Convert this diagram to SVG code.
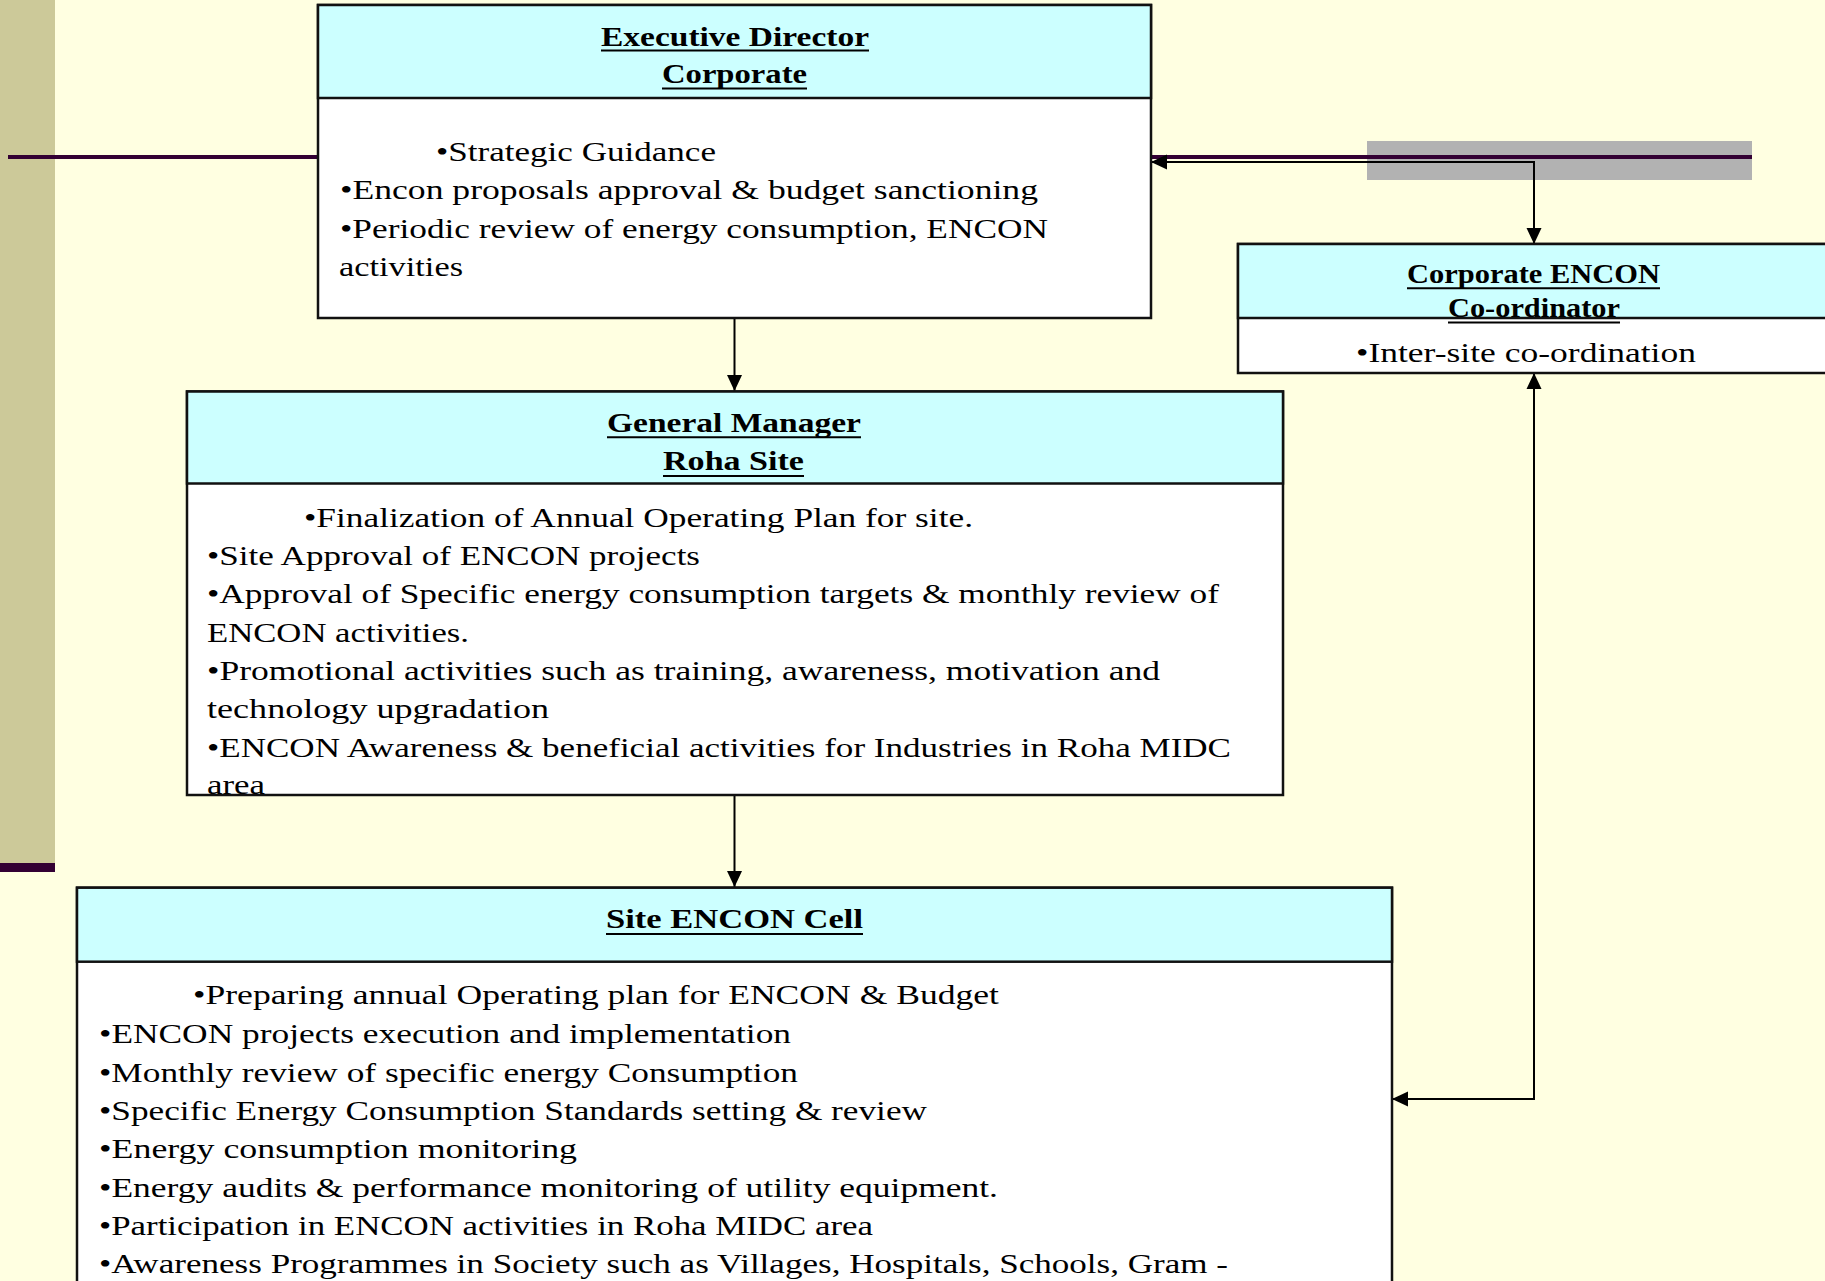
<svg xmlns="http://www.w3.org/2000/svg" width="1825" height="1281" viewBox="0 0 1825 1281">
<defs>
<style>
.bg{fill:#FFFFE1}
.box{fill:#FFFFFF;stroke:#111111;stroke-width:2.5}
.hdr{fill:#CCFFFF;stroke:#111111;stroke-width:2.5}
.h{font-family:"Liberation Serif","Times New Roman",Times,serif;font-weight:bold;font-size:28px;fill:#000000}
.t{font-family:"Liberation Serif","Times New Roman",Times,serif;font-size:28px;fill:#000000}
.ul{stroke:#000000;stroke-width:2}
.con{fill:none;stroke:#000000;stroke-width:2}
</style>
<marker id="arr" viewBox="0 0 16 16" markerWidth="16" markerHeight="16" refX="16" refY="8" orient="auto-start-reverse" markerUnits="userSpaceOnUse">
<path d="M0,0.5 L16,8 L0,15.5 Z" fill="#000000"/>
</marker>
</defs>
<rect class="bg" x="0" y="0" width="1825" height="1281"/>
<g id="decor">
<rect x="0" y="0" width="55" height="863" fill="#CCC999"/>
<rect x="0" y="863" width="55" height="9" fill="#330033"/>
<rect x="1367" y="141" width="385" height="39" fill="#B2B2B2"/>
<line x1="8" y1="157" x2="1752" y2="157" stroke="#330033" stroke-width="4"/>
</g>
<g id="connectors">
<line class="con" x1="734.5" y1="318" x2="734.5" y2="391" marker-end="url(#arr)"/>
<line class="con" x1="734.5" y1="796" x2="734.5" y2="887" marker-end="url(#arr)"/>
<path class="con" d="M1151,162 H1534 V244" marker-start="url(#arr)" marker-end="url(#arr)"/>
<path class="con" d="M1534,373 V1099 H1392" marker-start="url(#arr)" marker-end="url(#arr)"/>
</g>
<g id="node-ed">
<rect class="box" x="318" y="5" width="833" height="313"/>
<rect class="hdr" x="318" y="5" width="833" height="93"/>
<text class="h" x="601" y="45.5" textLength="268" lengthAdjust="spacingAndGlyphs">Executive Director</text>
<line class="ul" x1="601" y1="50.5" x2="869" y2="50.5"/>
<text class="h" x="662" y="83" textLength="145" lengthAdjust="spacingAndGlyphs">Corporate</text>
<line class="ul" x1="662" y1="88.5" x2="807" y2="88.5"/>
<text class="t" x="436" y="160.5" textLength="280" lengthAdjust="spacingAndGlyphs">•Strategic Guidance</text>
<text class="t" x="340" y="199" textLength="698" lengthAdjust="spacingAndGlyphs">•Encon proposals approval &amp; budget sanctioning</text>
<text class="t" x="340" y="237.5" textLength="708" lengthAdjust="spacingAndGlyphs">•Periodic review of energy consumption, ENCON</text>
<text class="t" x="339" y="276" textLength="124" lengthAdjust="spacingAndGlyphs">activities</text>
</g>
<g id="node-coord">
<rect class="box" x="1238" y="244" width="600" height="129"/>
<rect class="hdr" x="1238" y="244" width="600" height="74"/>
<text class="h" x="1407" y="282.5" textLength="253" lengthAdjust="spacingAndGlyphs">Corporate ENCON</text>
<line class="ul" x1="1407" y1="288.3" x2="1660" y2="288.3"/>
<text class="h" x="1448" y="316.5" textLength="172" lengthAdjust="spacingAndGlyphs">Co-ordinator</text>
<line class="ul" x1="1448" y1="322.5" x2="1620" y2="322.5"/>
<text class="t" x="1356" y="361.5" textLength="340" lengthAdjust="spacingAndGlyphs">•Inter-site co-ordination</text>
</g>
<g id="node-gm">
<rect class="box" x="187" y="391.5" width="1096" height="403.5"/>
<rect class="hdr" x="187" y="391.5" width="1096" height="92"/>
<text class="h" x="607" y="431.5" textLength="254" lengthAdjust="spacingAndGlyphs">General Manager</text>
<line class="ul" x1="607" y1="437.3" x2="861" y2="437.3"/>
<text class="h" x="663" y="470" textLength="141" lengthAdjust="spacingAndGlyphs">Roha Site</text>
<line class="ul" x1="663" y1="476" x2="804" y2="476"/>
<text class="t" x="304" y="526.7" textLength="669" lengthAdjust="spacingAndGlyphs">•Finalization of Annual Operating Plan for site.</text>
<text class="t" x="207" y="565" textLength="493" lengthAdjust="spacingAndGlyphs">•Site Approval of ENCON projects</text>
<text class="t" x="207" y="603" textLength="1012" lengthAdjust="spacingAndGlyphs">•Approval of Specific energy consumption targets &amp; monthly review of</text>
<text class="t" x="207" y="641.5" textLength="262" lengthAdjust="spacingAndGlyphs">ENCON activities.</text>
<text class="t" x="207" y="680" textLength="953" lengthAdjust="spacingAndGlyphs">•Promotional activities such as training, awareness, motivation and</text>
<text class="t" x="207" y="718.3" textLength="342" lengthAdjust="spacingAndGlyphs">technology upgradation</text>
<text class="t" x="207" y="756.7" textLength="1024" lengthAdjust="spacingAndGlyphs">•ENCON Awareness &amp; beneficial activities for Industries in Roha MIDC</text>
<text class="t" x="207" y="794" textLength="58" lengthAdjust="spacingAndGlyphs">area</text>
</g>
<g id="node-site">
<rect class="box" x="77" y="887.7" width="1315" height="420"/>
<rect class="hdr" x="77" y="887.7" width="1315" height="74"/>
<text class="h" x="606" y="928" textLength="257" lengthAdjust="spacingAndGlyphs">Site ENCON Cell</text>
<line class="ul" x1="606" y1="934" x2="863" y2="934"/>
<text class="t" x="193" y="1004" textLength="806" lengthAdjust="spacingAndGlyphs">•Preparing annual Operating plan for ENCON &amp; Budget</text>
<text class="t" x="99" y="1043.3" textLength="692" lengthAdjust="spacingAndGlyphs">•ENCON projects execution and implementation</text>
<text class="t" x="99" y="1081.7" textLength="699" lengthAdjust="spacingAndGlyphs">•Monthly review of specific energy Consumption</text>
<text class="t" x="99" y="1120" textLength="828" lengthAdjust="spacingAndGlyphs">•Specific Energy Consumption Standards setting &amp; review</text>
<text class="t" x="99" y="1158.3" textLength="478" lengthAdjust="spacingAndGlyphs">•Energy consumption monitoring</text>
<text class="t" x="99" y="1196.7" textLength="899" lengthAdjust="spacingAndGlyphs">•Energy audits &amp; performance monitoring of utility equipment.</text>
<text class="t" x="99" y="1235" textLength="774" lengthAdjust="spacingAndGlyphs">•Participation in ENCON activities in Roha MIDC area</text>
<text class="t" x="99" y="1273.3" textLength="1129" lengthAdjust="spacingAndGlyphs">•Awareness Programmes in Society such as Villages, Hospitals, Schools, Gram -</text>
</g>
</svg>
